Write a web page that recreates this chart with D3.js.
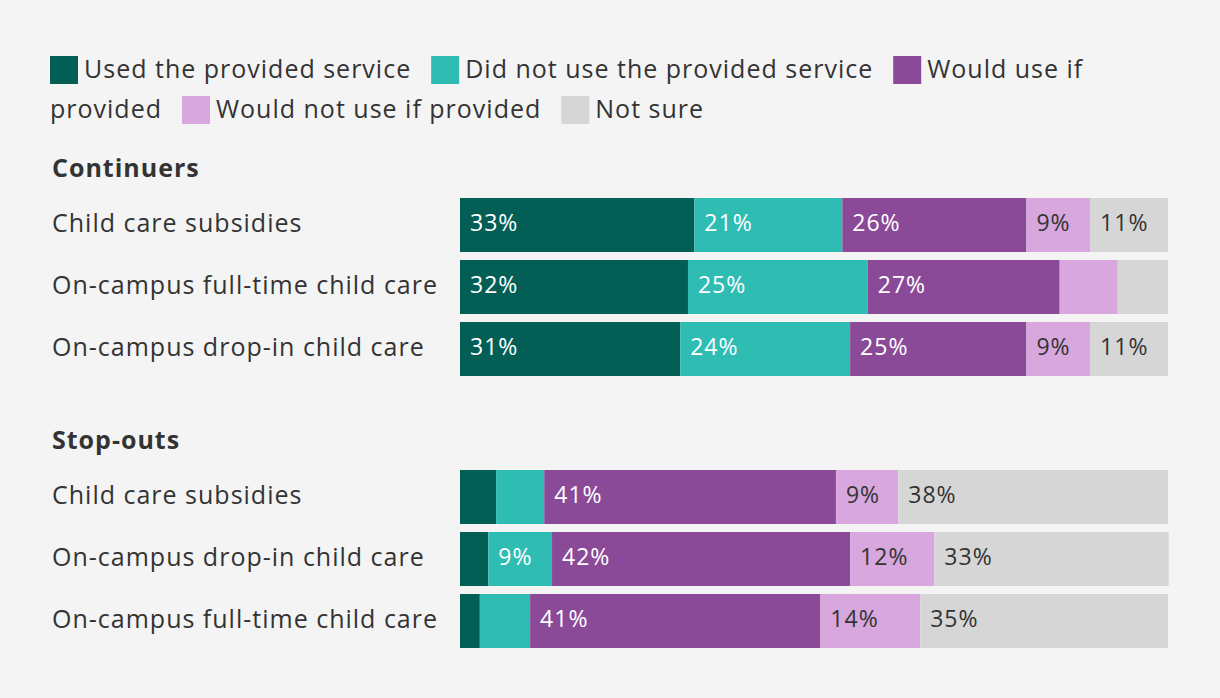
<!DOCTYPE html>
<html>
<head>
<meta charset="utf-8">
<script src="https://cdn.jsdelivr.net/npm/d3@7"></script>
<style>
  html, body { margin: 0; padding: 0; background: #f4f4f4; }
  svg { display: block; }
  text { font-family: "Open Sans", "Noto Sans", sans-serif; fill: #333; letter-spacing: 1px; }
</style>
</head>
<body>
<svg id="chart" width="1220" height="698"></svg>
<script>
// ---- data ----
const seriesNames = ["Used the provided service", "Did not use the provided service", "Would use if provided", "Would not use if provided", "Not sure"];
const seriesColors = ["#035f56", "#2fbcb3", "#8b4a98", "#d7a7dd", "#d6d6d6"];
const labelColors = ["#ffffff", "#ffffff", "#ffffff", "#333333", "#333333"];

const groupNames = ["Continuers", "Stop-outs"];

const continuersCategories = ["Child care subsidies", "On-campus full-time child care", "On-campus drop-in child care"];
const continuersUsed      = [33.1, 32.2, 31.1];
const continuersDidNotUse = [20.9, 25.4, 24.0];
const continuersWouldUse  = [26.0, 27.1, 24.9];
const continuersWouldNot  = [9.0, 8.2, 9.0];
const continuersNotSure   = [11.0, 7.1, 11.0];

const stopoutsCategories = ["Child care subsidies", "On-campus drop-in child care", "On-campus full-time child care"];
const stopoutsUsed      = [5.1, 4.0, 2.8];
const stopoutsDidNotUse = [6.8, 9.0, 7.1];
const stopoutsWouldUse  = [41.2, 42.1, 41.0];
const stopoutsWouldNot  = [8.8, 11.9, 14.1];
const stopoutsNotSure   = [38.1, 33.1, 35.0];

const labelThreshold = 8.5;

// ---- layout ----
const svg = d3.select("#chart");
svg.append("rect").attr("width", 1220).attr("height", 698).attr("fill", "#f4f4f4");

const x = d3.scaleLinear().domain([0, 100]).range([460, 1168]);
const color = d3.scaleOrdinal().domain(seriesNames).range(seriesColors);
const labelColor = d3.scaleOrdinal().domain(seriesNames).range(labelColors);

// legend (flowing words)
const legendFont = 25;
const legend = svg.append("g").attr("class", "legend");
let lx = 50, ly = 70;
const lineH = 40, maxX = 1172;
function measure(str, size, weight) {
  const t = svg.append("text").attr("font-size", size).attr("font-weight", weight || 400).text(str);
  const w = t.node().getComputedTextLength();
  t.remove();
  return w;
}
const spaceW = measure("a a", legendFont) - measure("aa", legendFont);
seriesNames.forEach((name, i) => {
  if (lx + 28 > maxX) { lx = 50; ly += lineH; }
  legend.append("rect").attr("x", lx).attr("y", ly - 14).attr("width", 28).attr("height", 28).attr("fill", color(name));
  lx += 34;
  const words = name.split(" ");
  words.forEach((w, j) => {
    const ww = measure(w, legendFont);
    if (lx + ww > maxX) { lx = 50; ly += lineH; }
    legend.append("text").attr("x", lx).attr("y", ly).attr("dy", "0.33em")
      .attr("font-size", legendFont).text(w);
    lx += ww + (j < words.length - 1 ? spaceW : 0);
  });
  lx += 20;
});

function drawGroup(title, titleY, cats, arrays, top) {
  const g = svg.append("g");
  g.append("text").attr("x", 52).attr("y", titleY).attr("dy", "0.35em")
    .attr("font-size", 25).attr("font-weight", 700).text(title);
  const y = d3.scaleBand().domain(cats).range([top, top + 3 * 62 - 8]).paddingInner(8 / 62).paddingOuter(0);
  const rows = cats.map((c, i) => {
    const r = { cat: c };
    seriesNames.forEach((s, k) => r[s] = arrays[k][i]);
    return r;
  });
  const stacked = d3.stack().keys(seriesNames)(rows);
  g.append("g").selectAll("text").data(cats).join("text")
    .attr("x", 52).attr("y", d => y(d) + y.bandwidth() / 2 - 2).attr("dy", "0.35em")
    .attr("font-size", 25).text(d => d);
  const layers = g.append("g").selectAll("g").data(stacked).join("g")
    .attr("fill", d => color(d.key));
  layers.selectAll("rect").data(d => d).join("rect")
    .attr("x", d => x(d[0])).attr("width", d => x(d[1]) - x(d[0]))
    .attr("y", d => y(d.data.cat)).attr("height", y.bandwidth());
  const lab = g.append("g").selectAll("g").data(stacked).join("g");
  lab.selectAll("text").data(d => d.map(v => ({ v, key: d.key })).filter(o => (o.v[1] - o.v[0]) >= labelThreshold)).join("text")
    .attr("x", d => x(d.v[0]) + 10).attr("y", d => y(d.v.data.cat) + y.bandwidth() / 2 - 2).attr("dy", "0.35em")
    .attr("font-size", 23).style("fill", d => labelColor(d.key))
    .text(d => Math.round(d.v[1] - d.v[0]) + "%");
}

drawGroup(groupNames[0], 168, continuersCategories,
  [continuersUsed, continuersDidNotUse, continuersWouldUse, continuersWouldNot, continuersNotSure], 198);
drawGroup(groupNames[1], 440, stopoutsCategories,
  [stopoutsUsed, stopoutsDidNotUse, stopoutsWouldUse, stopoutsWouldNot, stopoutsNotSure], 470);
</script>
</body>
</html>
